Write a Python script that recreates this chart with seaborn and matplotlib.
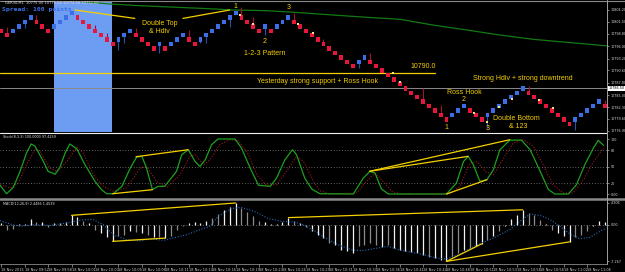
import matplotlib
matplotlib.use('Agg')
import matplotlib.pyplot as plt
import seaborn as sns
from matplotlib.lines import Line2D

# ---------------- renko price panel ----------------
# mid price of each renko box (box size 1.0), bars 0..103
box_mid = [10799.5, 10798.5, 10799.5, 10800.5, 10801.5, 10802.5, 10801.5, 10800.5, 10799.5, 10800.5,
           10801.5, 10802.5, 10803.5, 10802.5, 10801.5, 10800.5, 10799.5, 10798.5, 10797.5, 10796.5,
           10797.5, 10798.5, 10799.5, 10798.5, 10797.5, 10796.5, 10795.5, 10796.5, 10795.5, 10796.5,
           10797.5, 10798.5, 10797.5, 10796.5, 10797.5, 10798.5, 10799.5, 10800.5, 10801.5, 10802.5,
           10803.5, 10802.5, 10801.5, 10800.5, 10799.5, 10800.5, 10799.5, 10800.5, 10801.5, 10802.5,
           10801.5, 10800.5, 10799.5, 10798.5, 10797.5, 10796.5, 10795.5, 10794.5, 10793.5, 10792.5,
           10791.5, 10792.5, 10793.5, 10792.5, 10791.5, 10790.5, 10789.5, 10788.5, 10787.5, 10786.5,
           10785.5, 10784.5, 10783.5, 10782.5, 10781.5, 10780.5, 10779.5, 10780.5, 10781.5, 10782.5,
           10781.5, 10780.5, 10779.5, 10780.5, 10781.5, 10782.5, 10783.5, 10784.5, 10785.5, 10786.5,
           10785.5, 10784.5, 10783.5, 10782.5, 10781.5, 10780.5, 10779.5, 10778.5, 10779.5, 10780.5,
           10781.5, 10782.5, 10783.5, 10782.5]

wick_bar = [1, 4, 6, 16, 18, 20, 21, 23, 27, 32, 34, 35, 39, 41, 43, 45, 50, 55, 61, 63, 72, 75, 83, 90, 98, 103]
wick_end = [10800.3, 10800.2, 10803.1, 10800.7, 10798.9, 10795.2, 10796.7, 10800.1, 10794.6, 10799.7,
            10796.7, 10796.7, 10800.4, 10804.9, 10802.7, 10798.55, 10803.6, 10797.6, 10791.0, 10794.6,
            10786.7, 10782.8, 10777.5, 10787.0, 10777.1, 10783.9]

dot_bar = [40.7, 43, 50.7, 53.2, 66.8, 68, 80.7, 83, 85, 87.1, 91.8, 94.1]
dot_price = [10803.1, 10801.0, 10801.0, 10798.9, 10790.0, 10788.0, 10781.0, 10779.0, 10782.4, 10784.0,
             10783.9, 10782.0]

ma_x = [12.9, 13.9, 18.6, 23.7, 34.8, 39.6, 45.4, 51.0, 56.6, 62.4, 68.1, 73.7, 79.5, 85.1, 90.8, 96.6, 103.4]
ma_price = [10806.2, 10806.07, 10805.55, 10805.17, 10804.53, 10804.2, 10804.04, 10803.59, 10803.07,
            10802.55, 10802.1, 10800.8, 10799.68, 10798.55, 10797.58, 10796.9, 10796.1]

price_ticks = [10804.2, 10801.5, 10798.8, 10796.0, 10793.2, 10790.6, 10787.8, 10785.0, 10782.3, 10779.6,
               10776.9]
support_price = 10790.0
last_price = 10786.5

# ---------------- stochastic ----------------
stoch_k_x = [-0.2, 0.9, 2.05, 3.2, 4.3, 5.1, 5.75, 7.2, 8.0, 9.2, 10.0, 10.9, 11.7, 12.9, 14.3, 16.0, 17.1,
             18.0, 19.1, 20.6, 22.0, 23.1, 24.0, 24.8, 25.8, 26.8, 27.9, 29.9, 30.8, 31.9, 33.1, 33.9, 34.8,
             35.9, 37.0, 39.9, 41.0, 42.5, 43.9, 45.9, 47.0, 48.4, 49.7, 50.4, 51.8, 53.0, 54.4, 60.1, 61.8,
             62.9, 63.8, 64.9, 66.1, 76.0, 77.7, 78.9, 79.7, 80.6, 81.7, 82.9, 84.0, 85.1, 86.8, 88.8, 90.3,
             92.0, 93.4, 94.5, 96.8, 98.2, 99.6, 101.1, 101.9, 102.8]
stoch_k = [15.8, 0.5, 12, 41, 74.5, 91, 87, 59, 41, 36, 48.5, 74.5, 91, 82, 53, 23, 8, 0.5, 0.5, 14, 47,
           67, 68.5, 47, 8, 14, 14, 41, 71.5, 80.5, 59, 50, 62, 89.6, 100, 100, 83.6, 47, 16, 14, 29, 62,
           80.5, 71.5, 29, 9, 0.5, 0, 29, 41, 38, 9, 0, 0, 20, 59, 68.5, 53, 23, 26, 44, 80, 98, 98, 80,
           41, 8, 0, 0, 17, 53, 84, 97.6, 88.5]
stoch_d_x = [-0.2, 1.5, 2.9, 4.3, 5.8, 6.6, 8.3, 9.5, 11.2, 12.9, 14.0, 15.7, 17.4, 19.1, 21.4, 23.7, 24.8,
             26.5, 28.2, 30.5, 32.2, 33.1, 34.5, 35.6, 37.3, 39.0, 40.5, 42.2, 43.6, 45.3, 47.0, 48.7, 50.4,
             51.6, 53.3, 54.4, 56.1, 60.7, 62.1, 63.8, 65.2, 66.6, 68.1, 76.6, 78.3, 80.0, 81.2, 82.6, 84.0,
             85.4, 87.4, 89.1, 90.8, 92.5, 94.2, 95.9, 97.6, 99.4, 101.1, 102.8]
stoch_d = [17, 11, 20, 53, 82, 78, 47, 41, 59, 85, 74.5, 35, 14, 5, 11, 47, 50, 23, 12, 35, 68.5, 71.5,
           53, 62, 89.6, 98.8, 97, 71.5, 35, 16, 17, 41, 68.5, 59, 23, 6, 0, 2, 20, 38, 23, 5, 0, 0, 14,
           56, 59, 41, 35, 59, 93, 98.8, 87, 53, 17, 2, 2, 26, 59, 84]
stoch_levels = [80, 50, 20]

# ---------------- MACD ----------------
macd_hist = [0.3, -1.0, -0.8, 0.1, 0.2, 1.1, 0.5, 0.5, -0.5, 0.3,
             0.26, 0.5, 1.85, 1.45, 0.8, 0.4, -1.0, -1.65, -2.5, -3.3,
             -2.3, -2.1, -1.3, -1.5, -1.65, -2.1, -2.5, -2.5, -2.65, -2.3,
             -1.1, -0.3, 0.3, 0.5, 0.26, 0.66, 1.3, 2.1, 3.0, 3.6,
             4.3, 3.3, 2.6, 1.65, 0.8, 0.5, 0.05, 0.15, 0.5, 1.4,
             0.66, 0.3, -0.5, -1.3, -2.1, -2.65, -3.6, -4.0, -4.95, -5.3,
             -5.6, -4.3, -4.0, -3.6, -4.0, -4.5, -4.0, -4.6, -4.95, -5.3,
             -5.4, -5.6, -5.9, -6.3, -6.6, -6.9, -7.26, -6.3, -5.6, -5.0,
             -4.6, -4.2, -3.8, -3.0, -2.2, -1.3, -0.3, 1.2, 2.0, 2.95,
             2.3, 2.0, 1.0, 0.1, -1.0, -1.65, -2.3, -3.4, -2.5, -2.0,
             -1.3, -0.2, 0.66, 0.5]
macd_shade = ("wggwwwgwgw" "wwwwgwgwww" "ggwgwgwgwg" "ggwwwwggww" "wggggwwwww"
              "gwgwwwgwww" "wggggwgwww" "wwwgwwwggw" "gwwgwgwwww" "gggwgwwwgg" "gwww")
signal_x = [-0.2, 1.5, 3.2, 5.5, 8.3, 11.2, 14.0, 15.7, 17.4, 19.1, 21.4, 23.7, 25.4, 27.7, 31.6, 33.9,
            35.6, 37.0, 39.3, 41.0, 43.3, 45.6, 47.9, 50.1, 51.8, 53.6, 55.3, 57.5, 59.8, 61.5, 64.4, 66.1,
            67.8, 70.6, 72.0, 74.3, 76.0, 78.3, 81.2, 84.0, 86.8, 88.5, 90.3, 92.0, 93.7, 95.4, 97.1, 98.8,
            100.5, 102.2, 103.3]
signal = [0.8, 0.13, -0.33, 0, -0.13, 0.33, 1.0, 1.0, 0, -2.0, -3.0, -3.2, -2.8, -3.1, -2.0, -1.0, -0.33,
          1.65, 3.2, 3.4, 2.6, 1.2, 0.66, 0.5, -0.13, -1.3, -2.6, -4.0, -4.95, -5.15, -4.6, -4.3, -4.95,
          -5.6, -5.9, -6.6, -6.8, -5.8, -4.0, -2.65, -1.0, 0.66, 2.1, 1.85, 1.0, -0.33, -1.85, -2.8, -2.5,
          -1.3, -0.66]

time_labels = ["18 Nov 2015", "18 Nov 09:52", "18 Nov 09:58", "18 Nov 10:01", "18 Nov 10:03",
               "18 Nov 10:05", "18 Nov 10:08", "18 Nov 10:11", "18 Nov 10:14", "18 Nov 10:16",
               "18 Nov 10:19", "18 Nov 10:23", "18 Nov 10:26", "18 Nov 10:29", "18 Nov 10:31",
               "18 Nov 10:33", "18 Nov 10:36", "18 Nov 10:41", "18 Nov 10:44", "18 Nov 10:48",
               "18 Nov 10:51", "18 Nov 10:53", "18 Nov 10:56", "18 Nov 10:58", "18 Nov 11:02",
               "18 Nov 11:06"]

# trend lines drawn on the screenshot (bar index, value)
price_lines = [((12.6, 10804.2), (22.8, 10802.3)), ((31.0, 10802.3), (39.0, 10804.2))]
stoch_lines = [((19.0, 0.5), (25.8, 7.8)), ((23.0, 67.8), (31.9, 80.5)), ((62.9, 41.3), (86.8, 98.7)),
               ((62.9, 41.3), (79.7, 68.5)), ((76.0, 0.0), (82.9, 26.0))]
macd_lines = [((12, 1.85), (40, 4.3)), ((19, -3.3), (28, -2.65)), ((49, 1.4), (89, 2.95)),
              ((76, -7.26), (82, -3.8)), ((76, -7.26), (97, -3.4))]

notes = [("Double Top", 27.0, 10801.2), ("& Hdiv", 27.0, 10799.3), ("1", 40.0, 10804.95),
         ("3", 49.0, 10804.8), ("2", 45.0, 10797.05), ("1-2-3 Pattern", 45.0, 10794.4),
         ("Yesterday strong support + Ross Hook", 54.0, 10788.1), ("10790.0", 72.0, 10791.4),
         ("Strong Hdiv + strong downtrend", 89.0, 10788.8), ("Ross Hook", 79.0, 10785.6),
         ("2", 78.9, 10784.05), ("1", 76.0, 10777.7), ("3", 83.0, 10777.5),
         ("Double Bottom", 87.9, 10779.75), ("& 123", 88.3, 10777.85)]

# ---------------- style ----------------
sns.set_theme(style='dark', rc={'figure.facecolor': 'black', 'axes.facecolor': 'black',
                                'savefig.facecolor': 'black', 'axes.grid': False,
                                'text.color': 'white'})
plt.rcParams['font.family'] = ['DejaVu Sans']

BLUE, RED = '#3c6ee8', '#e6163d'
GOLD = '#f5d000'
W, H = 625, 272

fig = plt.figure(figsize=(6.25, 2.72), dpi=100)


def px_axes(left, top, right, bottom):
    return fig.add_axes([left / W, 1 - bottom / H, (right - left) / W, (bottom - top) / H])


ax_p = px_axes(0, 1, 607, 132)
ax_s = px_axes(0, 134, 607, 197)
ax_m = px_axes(0, 201, 607, 264)

# ----- price panel -----
ax_p.axvspan(9.0, 18.9, color='#6d9df2', lw=0, zorder=0)
ax_p.axhline(last_price, color='#8a8a8a', lw=0.7, zorder=1)
ax_p.plot([-0.3, 74.0], [support_price, support_price], color=GOLD, lw=0.9, zorder=1)
sns.lineplot(x=ma_x, y=ma_price, ax=ax_p, color='#137a13', lw=0.9, zorder=2)

bar_x = list(range(len(box_mid)))
up = [False] + [box_mid[i] > box_mid[i - 1] for i in range(1, len(box_mid))]
ax_p.vlines(wick_bar, [box_mid[i] for i in wick_bar], wick_end,
            colors=['#2a4fb0' if up[i] else '#a3122f' for i in wick_bar], lw=0.8, zorder=2)
ax_p.bar(bar_x, 1.0, bottom=[m - 0.5 for m in box_mid], width=0.66,
         color=[BLUE if u else RED for u in up], linewidth=0, zorder=3)
ax_p.scatter(dot_bar, dot_price, s=1.5, color='#ffe07a', marker='s', lw=0, zorder=4)

for (x0, y0), (x1, y1) in price_lines:
    ax_p.plot([x0, x1], [y0, y1], color=GOLD, lw=0.9, zorder=4)
for txt, x, y in notes:
    ax_p.text(x, y, txt, color=GOLD, fontsize=5, family='Liberation Sans',
              ha='center', va='center', zorder=5)

ax_p.set_ylim(10776.66, 10806.23)
ax_p.set_yticks(price_ticks)
ax_p.set_yticklabels([f'{v:.2f}' for v in price_ticks])

# ----- stochastic panel -----
for lv in stoch_levels:
    ax_s.axhline(lv, color='#b8b8b8', lw=0.5, ls=(0, (1, 3)), zorder=1)
sns.lineplot(x=stoch_d_x, y=stoch_d, ax=ax_s, color='#9b1b1b', lw=0.8, ls=(0, (1, 1.5)), zorder=2)
sns.lineplot(x=stoch_k_x, y=stoch_k, ax=ax_s, color='#1ea01e', lw=0.9, zorder=3)
for (x0, y0), (x1, y1) in stoch_lines:
    ax_s.plot([x0, x1], [y0, y1], color=GOLD, lw=0.9, zorder=4)
ax_s.set_ylim(-5.45, 109.1)
ax_s.set_yticks([100, 80, 50, 20, 0])
ax_s.set_yticklabels(['100', '80', '50', '20', '0.00'])

# ----- MACD panel -----
ax_m.axhline(0, color='#b8b8b8', lw=0.5, ls=(0, (1, 3)), zorder=1)
ax_m.vlines(bar_x, 0, macd_hist, colors=['#f2f2f2' if c == 'w' else '#8c8c8c' for c in macd_shade],
            lw=0.9, zorder=2)
sns.lineplot(x=signal_x, y=signal, ax=ax_m, color='#2a68b8', lw=0.8, ls=(0, (1, 1.5)), zorder=3)
for (x0, y0), (x1, y1) in macd_lines:
    ax_m.plot([x0, x1], [y0, y1], color=GOLD, lw=0.9, zorder=4)
ax_m.set_ylim(-7.78, 4.69)
ax_m.set_yticks([4.306, 0, -7.267])
ax_m.set_yticklabels(['4.306', '0.00', '-7.267'])
ax_m.set_xticks(list(range(0, 104, 4)))
ax_m.set_xticklabels(time_labels, ha='left')

for ax in (ax_p, ax_s, ax_m):
    ax.set_xlim(-0.22, 103.4)
    ax.set_xlabel('')
    ax.set_ylabel('')
    for sp in ax.spines.values():
        sp.set_visible(False)
    ax.yaxis.tick_right()
    ax.tick_params(axis='y', length=1.5, width=0.4, pad=1, labelsize=2.4, colors='#d8d8d8')
for ax in (ax_p, ax_s):
    ax.tick_params(axis='x', bottom=False, labelbottom=False)
ax_m.tick_params(axis='x', bottom=True, length=2, width=0.4, pad=1.2, labelsize=2.5, colors='#d0d0d0')


# ----- frame lines and header texts -----
def fig_line(x0, y0, x1, y1, color, lw):
    fig.add_artist(Line2D([x0 / W, x1 / W], [1 - y0 / H, 1 - y1 / H], transform=fig.transFigure,
                          color=color, lw=lw))


fig_line(0, 0.5, 625, 0.5, '#8a8a8a', 0.8)
fig_line(0, 133, 607, 133, '#f0f0f0', 0.8)
fig_line(0, 199, 625, 199, '#8a8a8a', 1.8)
fig_line(0, 264, 607, 264, '#8a8a8a', 0.6)
fig_line(607, 0, 607, 264, '#a0a0a0', 0.7)

fig.text(5 / W, 1 - 3.5 / H, 'GER30,M1  10775.00 10775.00 10772.50 10772.50', fontsize=2.6,
         color='#e0e0e0', va='center')
fig.text(2 / W, 1 - 9 / H, 'Spread: 100 points', fontsize=4.6, family='DejaVu Sans Mono',
         weight='bold', color='#3c6fe6', va='center')
fig.text(3 / W, 1 - 137 / H, 'Stoch(8,3,3) 100.0000 97.4259', fontsize=2.4, color='#e0e0e0', va='center')
fig.text(3 / W, 1 - 204 / H, 'MACD(12,26,9) 2.4486 1.4539', fontsize=2.4, color='#e0e0e0', va='center')
fig.text(609 / W, 1 - 88.3 / H, f'{last_price:.2f}', fontsize=2.4, color='black', va='center',
         bbox=dict(facecolor='white', edgecolor='none', pad=0.4))

fig.savefig('out.png', dpi=100, facecolor='black')
